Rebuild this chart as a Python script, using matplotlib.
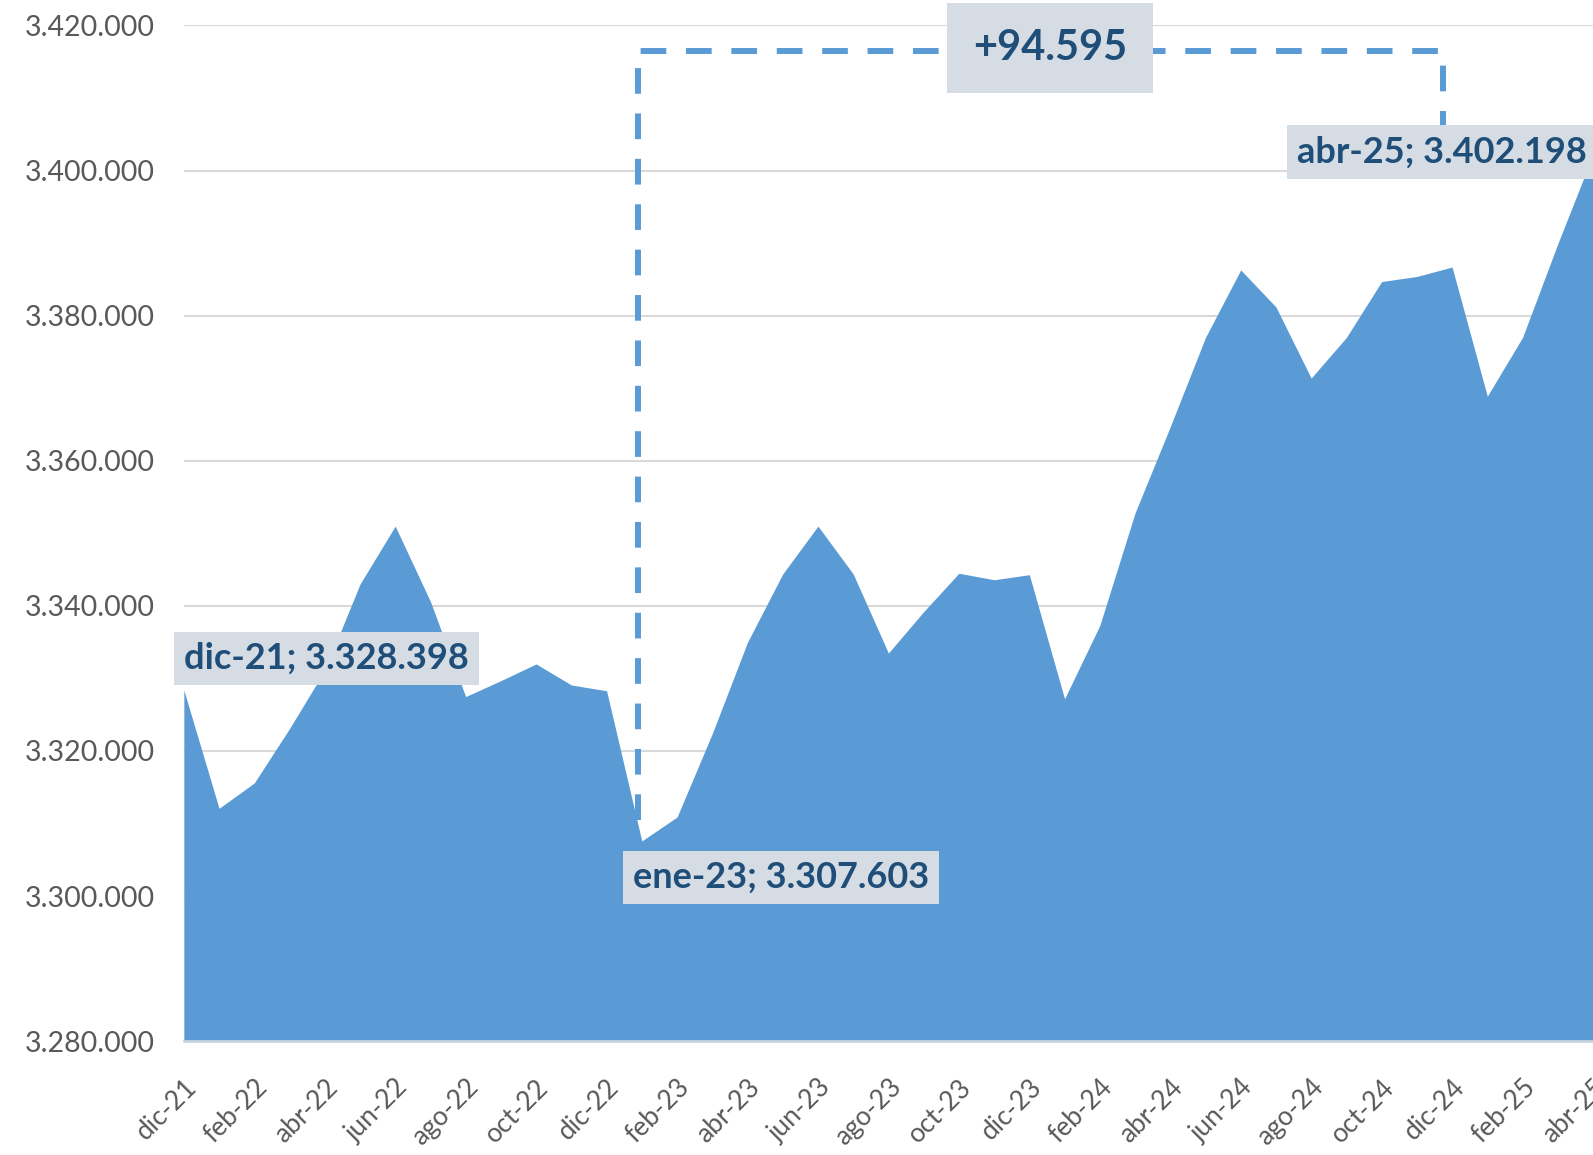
import matplotlib.pyplot as plt
from matplotlib.ticker import FuncFormatter

# Monthly values, dic-21 .. abr-25
months = ['dic-21', 'ene-22', 'feb-22', 'mar-22', 'abr-22', 'may-22', 'jun-22',
          'jul-22', 'ago-22', 'sep-22', 'oct-22', 'nov-22', 'dic-22',
          'ene-23', 'feb-23', 'mar-23', 'abr-23', 'may-23', 'jun-23',
          'jul-23', 'ago-23', 'sep-23', 'oct-23', 'nov-23', 'dic-23',
          'ene-24', 'feb-24', 'mar-24', 'abr-24', 'may-24', 'jun-24',
          'jul-24', 'ago-24', 'sep-24', 'oct-24', 'nov-24', 'dic-24',
          'ene-25', 'feb-25', 'mar-25', 'abr-25']
values = [3328398, 3312100, 3315600, 3323100, 3331100, 3343000, 3351000,
          3340600, 3327500, 3329700, 3332000, 3329100, 3328300,
          3307603, 3310900, 3322400, 3335000, 3344400, 3351000,
          3344400, 3333500, 3339200, 3344500, 3343600, 3344300,
          3327200, 3337300, 3352800, 3364700, 3377000, 3386300,
          3381200, 3371400, 3377000, 3384700, 3385400, 3386700,
          3368900, 3377000, 3389900, 3402198]
y_ticks = [3280000, 3300000, 3320000, 3340000, 3360000, 3380000, 3400000, 3420000]

plt.rcParams['font.family'] = ['Lato', 'DejaVu Sans']

fig = plt.figure(figsize=(15.93, 11.55), dpi=100)
ax = fig.add_axes([0.1154, 0.0985, 0.8846, 0.8795])

x = list(range(len(values)))
ax.fill_between(x, y_ticks[0], values, color='#5B9BD5', linewidth=0, zorder=2)

ax.set_xlim(0, len(values) - 1)
ax.set_ylim(y_ticks[0], y_ticks[-1])
ax.set_yticks(y_ticks)
ax.yaxis.set_major_formatter(FuncFormatter(lambda v, p: f'{int(v):,}'.replace(',', '.')))
ax.set_xticks(x[::2])
ax.set_xticklabels(months[::2], rotation=45, ha='right', rotation_mode='anchor')

ax.grid(axis='y', color='#D9D9D9', linewidth=1.5, zorder=0)
ax.set_axisbelow(True)
for s in ['top', 'right', 'left']:
    ax.spines[s].set_visible(False)
ax.spines['bottom'].set_color('#C9D3DF')
ax.spines['bottom'].set_linewidth(2)
ax.tick_params(axis='y', length=0, labelsize=20.5, labelcolor='#595959', pad=21)
ax.tick_params(axis='x', length=0, labelsize=19, labelcolor='#595959', pad=24)

# dashed bracket between ene-23 and abr-25
x_lo, x_hi, y_top = 12.9, 35.75, 3416500
ax.plot([x_lo, x_lo, x_hi, x_hi], [3310500, y_top, y_top, 3406000],
        color='#5B9BD5', linewidth=4.3, dashes=(4.3, 3.3), zorder=3,
        clip_on=False, solid_capstyle='butt', dash_capstyle='butt')

box = dict(boxstyle='square,pad=0.28', facecolor='#D6DCE4', edgecolor='none')
lab = dict(fontsize=26, fontweight='bold', color='#1F4E79', va='center',
           ha='left', zorder=5, clip_on=False)
ax.text(0.0, 3332800, 'dic-21; 3.328.398', bbox=box, **lab)
ax.text(12.74, 3302600, 'ene-23; 3.307.603', bbox=box, **lab)
ax.text(31.6, 3402560, 'abr-25; 3.402.198', bbox=box, **lab)

ax.text(24.58, 3416900, '+94.595', fontsize=30, fontweight='bold', color='#1F4E79',
        ha='center', va='center', zorder=5, clip_on=False,
        bbox=dict(boxstyle='square,pad=0.62', facecolor='#D6DCE4', edgecolor='none'))

fig.savefig('out.png', dpi=100)
